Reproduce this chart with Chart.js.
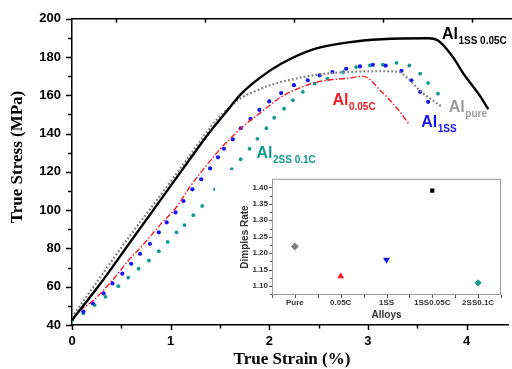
<!DOCTYPE html>
<html>
<head>
<meta charset="utf-8">
<script src="https://cdn.jsdelivr.net/npm/chart.js@4.4.1/dist/chart.umd.min.js"></script>
<style>
  html, body { margin: 0; padding: 0; background: #fff; }
  #wrap { position: relative; width: 512px; height: 369px; overflow: hidden; }
  #main { position: absolute; left: 0; top: 0; }
  #inset { position: absolute; left: 215px; top: 170px; }
</style>
</head>
<body>
<div id="wrap">
  <canvas id="main" width="512" height="369"></canvas>
  <canvas id="inset" width="295" height="150"></canvas>
</div>
<script>
// stress-strain curves
const al1ss005cStrain = [0, 0.3, 0.6, 0.9, 1.2, 1.37, 1.55, 1.71, 1.9, 2.12, 2.46, 2.8, 3.14, 3.61, 3.71, 3.85, 3.98, 4.12, 4.22];
const al1ss005cStress = [42.5, 62.5, 84, 105.5, 127, 139, 150.5, 160.5, 169, 176.5, 184.3, 187.7, 189.3, 189.8, 188.6, 180.8, 170.5, 160.9, 152.8];

const alPureStrain = [0, 0.3, 0.6, 0.9, 1.2, 1.47, 1.58, 1.71, 1.88, 2.05, 2.22, 2.46, 2.8, 3.14, 3.31, 3.41, 3.54, 3.68, 3.75];
const alPureStress = [44, 66, 87.5, 108, 129, 147.5, 153, 158.5, 162.7, 166, 168.2, 170.6, 172.2, 172.6, 172.2, 168.6, 161.8, 156.6, 154];

const al005cStrain = [0, 0.08, 0.22, 0.42, 0.56, 0.73, 0.9, 1.05, 1.2, 1.37, 1.51, 1.61, 1.71, 1.88, 2.05, 2.12, 2.46, 2.8, 2.95, 3.14, 3.31, 3.41];
const al005cStress = [43, 47.5, 53, 64, 73, 82.5, 92.7, 101, 112.5, 123.8, 132.4, 137.6, 142.8, 149.7, 156.6, 159.2, 166.6, 169, 169.9, 161.8, 152.3, 145.4];

const al1ssStrain = [0.115, 0.21, 0.32, 0.41, 0.51, 0.6, 0.69, 0.79, 0.88, 0.96, 1.05, 1.13, 1.22, 1.31, 1.4, 1.48, 1.54, 1.63, 1.71, 1.81, 1.9, 2.0, 2.12, 2.25, 2.39, 2.51, 2.64, 2.78, 2.92, 3.05, 3.18, 3.34, 3.44, 3.53, 3.61];
const al1ssStress = [47, 51.3, 56.5, 61.7, 66.8, 72, 77.2, 82.4, 88.4, 93.6, 98.8, 104.8, 110.9, 116.1, 121.8, 127.6, 132.1, 137, 142.8, 147.7, 152.4, 156.8, 161.2, 165.3, 167.9, 170.5, 172.2, 173.9, 175.1, 176, 175.5, 172.8, 167.9, 161.8, 156.6];

const al2ss01cStrain = [0, 0.115, 0.23, 0.34, 0.47, 0.57, 0.675, 0.78, 0.88, 0.97, 1.06, 1.14, 1.23, 1.32, 1.45, 1.54, 1.62, 1.71, 1.8, 1.88, 1.97, 2.05, 2.15, 2.24, 2.34, 2.46, 2.59, 2.75, 2.88, 3.02, 3.15, 3.29, 3.42, 3.53, 3.61, 3.71];
const al2ss01cStress = [42.5, 46.1, 50.4, 54.7, 60.3, 64.8, 69.4, 73.7, 78.6, 83.4, 88.4, 92.2, 97.4, 102.2, 110.9, 116.6, 121.5, 126.6, 132.1, 137.3, 142.8, 148.3, 153, 157.5, 161.8, 166.1, 168.7, 172.2, 174.8, 175.6, 176, 177, 175.6, 171.3, 166.5, 160.9];

const stressTicks = [40, 60, 80, 100, 120, 140, 160, 180, 200];
const strainTicks = [0, 1, 2, 3, 4];

// inset: dimples rate per alloy
const alloys = ['Pure', '0.05C', '1SS', '1SS0.05C', '2SS0.1C'];
const dimplesRate = [1.22, 1.13, 1.18, 1.39, 1.11];
const rateTicks = [1.10, 1.15, 1.20, 1.25, 1.30, 1.35, 1.40];

const BLACK = '#000000';
const GRAY  = '#808080';
const RED   = '#f21c24';
const BLUE  = '#1414f0';
const TEAL  = '#149a8c';

const curveLabels = [
  { sub: '1SS 0.05C', x: 3.75, y: 189.3, color: BLACK },
  { sub: 'pure',      x: 3.82, y: 151.5, color: '#9c9c9c' },
  { sub: '1SS',       x: 3.54, y: 143.7, color: BLUE },
  { sub: '0.05C',     x: 2.64, y: 154.9, color: RED },
  { sub: '2SS 0.1C',  x: 1.87, y: 127.3, color: TEAL },
];

const SANS  = '"Liberation Sans", Arial, sans-serif';
const SERIF = '"Liberation Serif", "Times New Roman", serif';

const toXY = (xs, ys) => xs.map((v, i) => ({ x: v, y: ys[i] }));

function drawAlLabel(ctx, px, py, sub, color) {
  ctx.fillStyle = color;
  ctx.textAlign = 'left';
  ctx.textBaseline = 'alphabetic';
  ctx.font = 'bold 16px ' + SANS;
  ctx.fillText('Al', px, py);
  const w = ctx.measureText('Al').width;
  ctx.font = 'bold 10px ' + SANS;
  ctx.fillText(sub, px + w + 0.5, py + 5);
}

const mainDecor = {
  id: 'mainDecor',
  afterDraw(chart) {
    const { ctx, chartArea: a, scales: { x, y } } = chart;
    ctx.save();
    ctx.strokeStyle = '#000';
    ctx.lineWidth = 1.5;
    ctx.beginPath();
    // top frame line
    ctx.moveTo(a.left, a.top);
    ctx.lineTo(chart.width, a.top);
    // left ticks, major + minor
    for (let v = 40; v <= 200; v += 10) {
      const py = Math.round(y.getPixelForValue(v)) + 0.5;
      const len = v % 20 === 0 ? 6 : 4;
      ctx.moveTo(a.left - len, py);
      ctx.lineTo(a.left, py);
    }
    // bottom ticks
    for (let v = 0; v <= 4.5; v += 0.5) {
      const px = Math.round(x.getPixelForValue(v)) + 0.5;
      const len = Number.isInteger(v) ? 5 : 3.5;
      ctx.moveTo(px, a.bottom);
      ctx.lineTo(px, a.bottom + len);
    }
    // small inward ticks on top
    [0.45, 1.35, 2.25, 3.15, 4.05].forEach(v => {
      const px = Math.round(x.getPixelForValue(v)) + 0.5;
      ctx.moveTo(px, a.top);
      ctx.lineTo(px, a.top + 4);
    });
    ctx.stroke();

    // axis titles
    ctx.fillStyle = '#000';
    ctx.font = 'bold 17px ' + SERIF;
    ctx.textAlign = 'center';
    ctx.textBaseline = 'middle';
    ctx.fillText('True Strain (%)', (a.left + chart.width) / 2, 360);
    ctx.save();
    ctx.translate(18, 157);
    ctx.rotate(-Math.PI / 2);
    ctx.fillText('True Stress (MPa)', 0, 0);
    ctx.restore();

    // curve labels
    curveLabels.forEach(l => {
      drawAlLabel(ctx, x.getPixelForValue(l.x), y.getPixelForValue(l.y), l.sub, l.color);
    });
    ctx.restore();
  }
};

new Chart(document.getElementById('main'), {
  type: 'line',
  data: {
    datasets: [
      {
        label: 'Al1SS 0.05C',
        data: toXY(al1ss005cStrain, al1ss005cStress),
        borderColor: BLACK,
        borderWidth: 2.4,
        pointRadius: 0,
        cubicInterpolationMode: 'monotone',
      },
      {
        label: 'Al pure',
        data: toXY(alPureStrain, alPureStress),
        borderColor: GRAY,
        borderWidth: 2.2,
        borderDash: [1.8, 2.2],
        pointRadius: 0,
        cubicInterpolationMode: 'monotone',
      },
      {
        label: 'Al0.05C',
        data: toXY(al005cStrain, al005cStress),
        borderColor: RED,
        borderWidth: 1.4,
        borderDash: [6, 2, 1.5, 2],
        pointRadius: 0,
        cubicInterpolationMode: 'monotone',
      },
      {
        label: 'Al1SS',
        data: toXY(al1ssStrain, al1ssStress),
        showLine: false,
        pointRadius: 2.1,
        pointBorderWidth: 0,
        pointBackgroundColor: BLUE,
      },
      {
        label: 'Al2SS 0.1C',
        data: toXY(al2ss01cStrain, al2ss01cStress),
        showLine: false,
        pointRadius: 1.9,
        pointBorderWidth: 0,
        pointBackgroundColor: TEAL,
      },
    ],
  },
  options: {
    responsive: false,
    animation: false,
    layout: { padding: { top: 15, right: 0, left: 0, bottom: 0 } },
    plugins: { legend: { display: false }, tooltip: { enabled: false } },
    scales: {
      x: {
        type: 'linear',
        min: 0,
        max: 4.42,
        afterBuildTicks: s => { s.ticks = strainTicks.map(v => ({ value: v })); },
        afterFit: s => { s.height = 44; },
        grid: { display: false, drawTicks: false },
        border: { display: true, color: '#000', width: 1.5 },
        ticks: {
          padding: 9,
          maxRotation: 0,
          color: '#000',
          font: { family: SANS, size: 13, weight: 'bold' },
        },
      },
      y: {
        min: 40,
        max: 200,
        afterBuildTicks: s => { s.ticks = stressTicks.map(v => ({ value: v })); },
        afterFit: s => { s.width = 72; },
        grid: { display: false, drawTicks: false },
        border: { display: true, color: '#000', width: 1.5 },
        ticks: {
          padding: 11,
          color: '#000',
          font: { family: SANS, size: 13, weight: 'bold' },
        },
      },
    },
  },
  plugins: [mainDecor],
});

// ---------- inset ----------
const insetDecor = {
  id: 'insetDecor',
  beforeDraw(chart) {
    const { ctx } = chart;
    ctx.save();
    ctx.fillStyle = '#fff';
    ctx.fillRect(0, 0, chart.width, chart.height);
    ctx.restore();
  },
  afterDraw(chart) {
    const { ctx, chartArea: a, scales: { x, y } } = chart;
    ctx.save();
    ctx.strokeStyle = '#9a9a9a';
    ctx.lineWidth = 1;
    ctx.strokeRect(a.left + 0.5, a.top + 0.5, a.right - a.left - 1, a.bottom - a.top - 1);
    ctx.strokeStyle = '#555';
    ctx.beginPath();
    for (let v = 1.075; v <= 1.42; v += 0.025) {
      const py = Math.round(y.getPixelForValue(v)) + 0.5;
      const major = Math.abs((v * 1000) % 50) < 1 || Math.abs((v * 1000) % 50 - 50) < 1;
      ctx.moveTo(a.left - (major ? 3 : 2), py);
      ctx.lineTo(a.left, py);
    }
    for (let i = -0.5; i <= alloys.length - 0.5; i += 0.5) {
      const px = Math.round(x.getPixelForValue(i)) + 0.5;
      ctx.moveTo(px, a.bottom);
      ctx.lineTo(px, a.bottom + 3);
    }
    ctx.stroke();

    ctx.fillStyle = '#333';
    ctx.font = 'bold 10px ' + SANS;
    ctx.textAlign = 'center';
    ctx.textBaseline = 'middle';
    ctx.fillText('Alloys', (a.left + a.right) / 2, 145);
    ctx.save();
    ctx.translate(30, 67);
    ctx.rotate(-Math.PI / 2);
    ctx.fillText('Dimples Rate', 0, 0);
    ctx.restore();
    ctx.restore();
  }
};

new Chart(document.getElementById('inset'), {
  type: 'line',
  data: {
    labels: alloys,
    datasets: [{
      data: dimplesRate,
      showLine: false,
      pointStyle: ['rectRot', 'triangle', 'triangle', 'rect', 'rectRot'],
      pointRotation: [0, 0, 180, 0, 0],
      pointRadius: [4, 4, 4, 3, 3.6],
      pointBorderWidth: 0,
      pointBackgroundColor: [GRAY, RED, BLUE, BLACK, TEAL],
    }],
  },
  options: {
    responsive: false,
    animation: false,
    layout: { padding: { top: 8, right: 9, left: 0, bottom: 0 } },
    plugins: { legend: { display: false }, tooltip: { enabled: false } },
    scales: {
      x: {
        type: 'category',
        offset: true,
        afterFit: s => { s.height = 25; },
        grid: { display: false, drawTicks: false },
        border: { display: false },
        ticks: {
          padding: 3,
          maxRotation: 0,
          autoSkip: false,
          color: '#333',
          font: { family: SANS, size: 8, weight: 'bold' },
        },
      },
      y: {
        min: 1.073,
        max: 1.426,
        afterBuildTicks: s => { s.ticks = rateTicks.map(v => ({ value: v })); },
        afterFit: s => { s.width = 57; },
        grid: { display: false, drawTicks: false },
        border: { display: false },
        ticks: {
          padding: 4,
          color: '#333',
          callback: v => v.toFixed(2),
          font: { family: SANS, size: 8, weight: 'bold' },
        },
      },
    },
  },
  plugins: [insetDecor],
});
</script>
</body>
</html>
